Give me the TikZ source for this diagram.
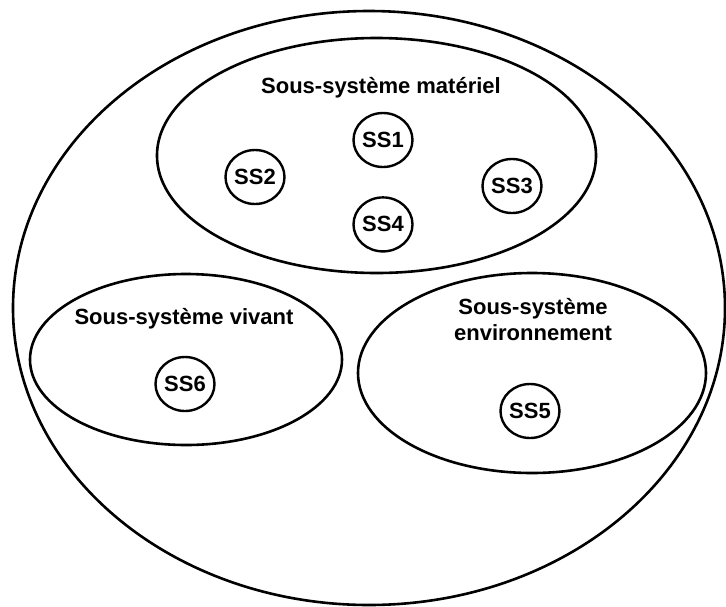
\documentclass[tikz,border=0pt]{standalone}
\usepackage{fontspec}
\setmainfont{Liberation Sans}
\usetikzlibrary{positioning, shapes.geometric}

\begin{document}
\begin{tikzpicture}[x=1pt, y=-1pt,
			sys/.style={draw, ellipse, line width=2.6pt, inner sep=0pt},
			ss/.style={draw, ellipse, line width=2.4pt, inner sep=0pt, minimum width=59pt, minimum height=54pt, font=\bfseries\fontsize{22}{26}\selectfont},
			lbl/.style={font=\bfseries\fontsize{22}{26}\selectfont, inner sep=0pt, align=center}]
			\useasboundingbox (0,0) rectangle (726,606);
			\node[sys, minimum width=712pt, minimum height=594pt] (univ) at (369,308) {};
			\node[sys, minimum width=439pt, minimum height=235pt] (mat) at (376.5,155.5) {};
			\node[sys, minimum width=312pt, minimum height=171pt] (viv) at (186,359.5) {};
			\node[sys, minimum width=348pt, minimum height=200pt] (env) at (532,373) {};
			\node[lbl, anchor=base] (matlbl) at (381,93) {Sous-système matériel};
			\node[lbl, anchor=base] (vivlbl) at (184,324) {Sous-système vivant};
			\node[lbl, anchor=south] (envlbl) at (533,341) {Sous-système\\environnement};
			\node[ss] (ss1) at (383,140) {SS1};
			\node[ss] (ss2) at (255,177) {SS2};
			\node[ss] (ss3) at (512,186) {SS3};
			\node[ss, below=28pt of ss1] (ss4) {SS4};
			\node[ss] (ss5) at (530,411) {SS5};
			\node[ss] (ss6) at (185,384) {SS6};
		\end{tikzpicture}
\end{document}
